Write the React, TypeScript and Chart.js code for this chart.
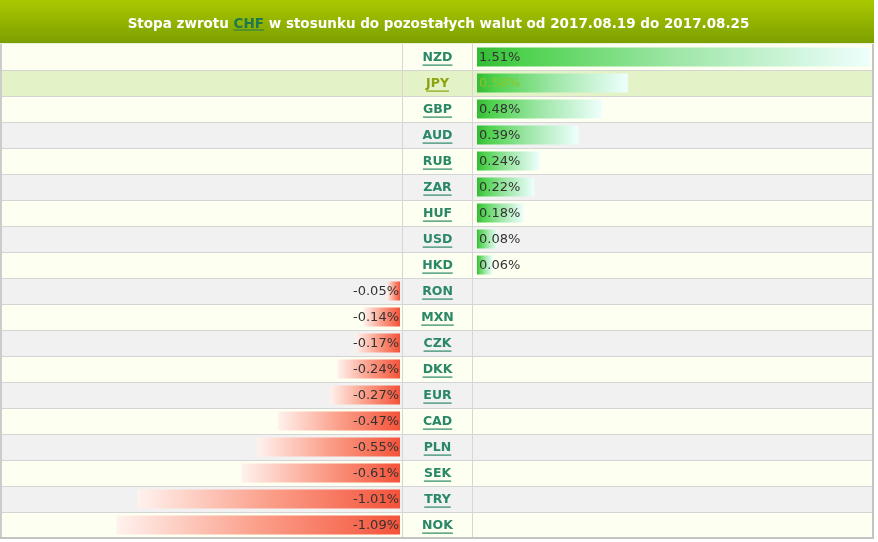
import React, { useEffect, useRef } from 'react';
import { Chart, registerables } from 'chart.js';

Chart.register(...registerables);

const TITLE_BEFORE = 'Stopa zwrotu ';
const TITLE_BASE = 'CHF';
const TITLE_AFTER = ' w stosunku do pozostałych walut od 2017.08.19 do 2017.08.25';

const currencies = ['NZD', 'JPY', 'GBP', 'AUD', 'RUB', 'ZAR', 'HUF', 'USD', 'HKD', 'RON', 'MXN', 'CZK', 'DKK', 'EUR', 'CAD', 'PLN', 'SEK', 'TRY', 'NOK'];
const returns = [1.51, 0.58, 0.48, 0.39, 0.24, 0.22, 0.18, 0.08, 0.06, -0.05, -0.14, -0.17, -0.24, -0.27, -0.47, -0.55, -0.61, -1.01, -1.09];
const highlighted = ['JPY'];

const positives = returns.map((v) => (v > 0 ? v : null));
const negatives = returns.map((v) => (v < 0 ? v : null));

const fmt = (v: number) => v.toFixed(2) + '%';

const PX_PER_UNIT = 260;
const AREA_LEFT = 2;
const AREA_RIGHT = 872;
const AREA_W = AREA_RIGHT - AREA_LEFT;
const NEG_ZERO = 400;
const POS_ZERO = 477;

function greenGradient(ctx: any) {
  const chart = ctx.chart;
  const scale = chart.scales && chart.scales.xPos;
  const v = ctx.raw;
  if (!scale || v == null || !isFinite(scale.getPixelForValue(0))) return '#4cd04c';
  const x0 = scale.getPixelForValue(0);
  const x1 = scale.getPixelForValue(v);
  if (!isFinite(x1) || x1 === x0) return '#4cd04c';
  const g = chart.ctx.createLinearGradient(x0, 0, x1, 0);
  g.addColorStop(0, '#33bb33');
  g.addColorStop(0.12, '#4fd24f');
  g.addColorStop(0.5, '#9de6a6');
  g.addColorStop(1, '#eefffd');
  return g;
}

function redGradient(ctx: any) {
  const chart = ctx.chart;
  const scale = chart.scales && chart.scales.xNeg;
  const v = ctx.raw;
  if (!scale || v == null || !isFinite(scale.getPixelForValue(0))) return '#f66a50';
  const x0 = scale.getPixelForValue(0);
  const x1 = scale.getPixelForValue(v);
  if (!isFinite(x1) || x1 === x0) return '#f66a50';
  const g = chart.ctx.createLinearGradient(x0, 0, x1, 0);
  g.addColorStop(0, '#f4533a');
  g.addColorStop(0.5, '#fb9f8a');
  g.addColorStop(1, '#fff2ee');
  return g;
}

const tablePlugin = {
  id: 'tablePlugin',
  beforeDraw(chart: any) {
    const { ctx, chartArea } = chart;
    const y = chart.scales.y;
    const n = currencies.length;
    const step = (chartArea.bottom - chartArea.top) / n;
    ctx.save();
    // header
    const hg = ctx.createLinearGradient(0, 0, 0, 43);
    hg.addColorStop(0, '#aac800');
    hg.addColorStop(1, '#7c9f00');
    ctx.fillStyle = hg;
    ctx.fillRect(0, 0, 874, 43);
    ctx.fillStyle = '#e8eed8';
    ctx.fillRect(0, 43, 874, 1);

    // title
    ctx.font = 'bold 13.5px "DejaVu Sans", Verdana, sans-serif';
    ctx.textBaseline = 'alphabetic';
    ctx.textAlign = 'left';
    const w1 = ctx.measureText(TITLE_BEFORE).width;
    const w2 = ctx.measureText(TITLE_BASE).width;
    const w3 = ctx.measureText(TITLE_AFTER).width;
    let tx = 438.5 - (w1 + w2 + w3) / 2;
    const ty = 28;
    ctx.fillStyle = '#ffffff';
    ctx.fillText(TITLE_BEFORE, tx, ty);
    tx += w1;
    ctx.fillStyle = '#1e7a4e';
    ctx.fillText(TITLE_BASE, tx, ty);
    ctx.fillRect(tx, ty + 1.5, w2, 1);
    tx += w2;
    ctx.fillStyle = '#ffffff';
    ctx.fillText(TITLE_AFTER, tx, ty);

    // rows
    for (let i = 0; i < n; i++) {
      const cy = y.getPixelForTick(i);
      const top = cy - step / 2;
      let bg = i % 2 === 0 ? '#fdfff0' : '#f1f1f1';
      if (highlighted.includes(currencies[i])) bg = '#e4f2c8';
      ctx.fillStyle = bg;
      ctx.fillRect(chartArea.left, top, chartArea.right - chartArea.left, step);
    }
    // row lines
    ctx.fillStyle = '#d4d4d4';
    for (let i = 1; i < n; i++) {
      const top = Math.round(chartArea.top + step * i);
      ctx.fillRect(chartArea.left, top, chartArea.right - chartArea.left, 1);
    }
    // column lines
    ctx.fillStyle = '#dcd4d4';
    ctx.fillRect(402, chartArea.top, 1, chartArea.bottom - chartArea.top);
    ctx.fillRect(472, chartArea.top, 1, chartArea.bottom - chartArea.top);
    // outer border
    ctx.fillStyle = '#cccccc';
    ctx.fillRect(0, chartArea.top, 2, chartArea.bottom - chartArea.top);
    ctx.fillStyle = '#c4c4c4';
    ctx.fillRect(chartArea.right, chartArea.top, 2, chartArea.bottom - chartArea.top + 1);
    ctx.fillRect(0, chartArea.bottom - 1, chartArea.right + 2, 2);
    ctx.restore();
  },
  afterDatasetsDraw(chart: any) {
    const { ctx } = chart;
    const y = chart.scales.y;
    const xPos = chart.scales.xPos;
    const xNeg = chart.scales.xNeg;
    ctx.save();
    ctx.textBaseline = 'middle';
    for (let i = 0; i < currencies.length; i++) {
      const cy = y.getPixelForTick(i);
      const hl = highlighted.includes(currencies[i]);
      // currency label
      ctx.font = 'bold 12.5px "DejaVu Sans", Verdana, sans-serif';
      ctx.textAlign = 'center';
      ctx.fillStyle = hl ? '#8aa30e' : '#2a8866';
      ctx.fillText(currencies[i], 437.5, cy + 1);
      const lw = ctx.measureText(currencies[i]).width;
      ctx.fillRect(437.5 - lw / 2, cy + 7.5, lw, 1.2);
      // value label
      const v = returns[i];
      ctx.font = '13px "DejaVu Sans", Verdana, sans-serif';
      ctx.fillStyle = hl ? '#8cc426' : '#333333';
      if (v >= 0) {
        ctx.textAlign = 'left';
        ctx.fillText(fmt(v), xPos.getPixelForValue(0) + 2, cy + 1);
      } else {
        ctx.textAlign = 'right';
        ctx.fillText(fmt(v), xNeg.getPixelForValue(0) - 1, cy + 1);
      }
    }
    ctx.restore();
  },
};

export default function App() {
  const ref = useRef<HTMLCanvasElement | null>(null);

  useEffect(() => {
    document.body.style.margin = '0';
    const canvas = ref.current;
    if (!canvas) return;
    const negMin = -(NEG_ZERO - AREA_LEFT) / PX_PER_UNIT;
    const posMin = -(POS_ZERO - AREA_LEFT) / PX_PER_UNIT;
    const span = AREA_W / PX_PER_UNIT;
    const chart = new Chart(canvas, {
      type: 'bar',
      data: {
        labels: currencies,
        datasets: [
          {
            label: 'pos',
            data: positives as any,
            xAxisID: 'xPos',
            yAxisID: 'y',
            backgroundColor: greenGradient as any,
            borderWidth: 0,
            barPercentage: 0.73,
            categoryPercentage: 1,
            grouped: false,
          },
          {
            label: 'neg',
            data: negatives as any,
            xAxisID: 'xNeg',
            yAxisID: 'y',
            backgroundColor: redGradient as any,
            borderWidth: 0,
            barPercentage: 0.73,
            categoryPercentage: 1,
            grouped: false,
          },
        ],
      },
      options: {
        indexAxis: 'y',
        responsive: false,
        animation: false,
        devicePixelRatio: 1,
        layout: { padding: { top: 44, left: AREA_LEFT, right: 878 - AREA_RIGHT, bottom: 4 } },
        plugins: {
          legend: { display: false },
          tooltip: { enabled: false },
          title: { display: false },
        },
        scales: {
          y: { type: 'category', display: false, offset: true },
          xPos: { type: 'linear', display: false, min: posMin, max: posMin + span, position: 'bottom' },
          xNeg: { type: 'linear', display: false, min: negMin, max: negMin + span, position: 'bottom' },
        },
      },
      plugins: [tablePlugin],
    });
    return () => chart.destroy();
  }, []);

  return (
    <div style={{ position: 'absolute', left: 0, top: 0, width: 878, height: 542 }}>
      <canvas ref={ref} width={878} height={542} style={{ display: 'block' }} />
    </div>
  );
}
